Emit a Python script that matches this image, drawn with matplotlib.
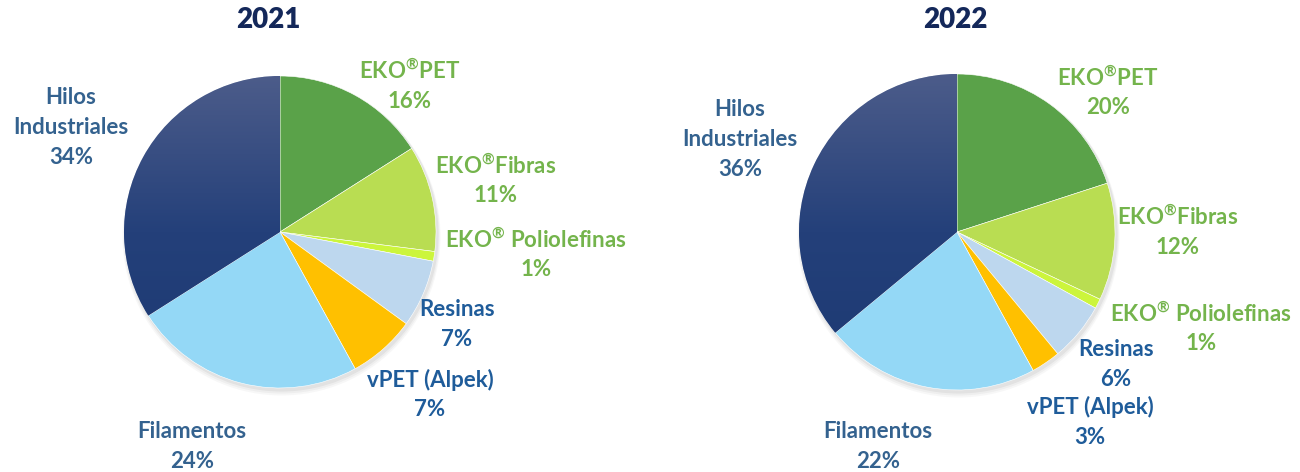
import numpy as np
import matplotlib
matplotlib.use("Agg")
import matplotlib.pyplot as plt
from matplotlib.patches import Circle
from matplotlib.colors import LinearSegmentedColormap

plt.rcParams['font.family'] = ['Lato', 'DejaVu Sans']
plt.rcParams['mathtext.fontset'] = 'custom'
plt.rcParams['mathtext.rm'] = 'Lato'
plt.rcParams['mathtext.bf'] = 'Lato:bold'

# === DATOS ===
YEARS = ["2021", "2022"]
CATS = ["EKO$^{\\mathbf{®}}$PET", "EKO$^{\\mathbf{®}}$Fibras", "EKO$^{\\mathbf{®}}$ Poliolefinas", "Resinas",
        "vPET (Alpek)", "Filamentos", "Hilos\nIndustriales"]
VALS_2021 = [16, 11, 1, 7, 7, 24, 34]
VALS_2022 = [20, 12, 1, 6, 3, 22, 36]

# === ESTILO ===
COLORS = ["#5AA249", "#B9DD52", "#CCF53C", "#BDD7EE", "#FFC000", "#94D8F6", "#2A4479"]
GREEN_TXT = "#74B44C"
BLUE_TXT = "#1F5C9A"
HILOS_TXT = "#34628F"
LABEL_COLORS = [GREEN_TXT, GREEN_TXT, GREEN_TXT, BLUE_TXT, BLUE_TXT, HILOS_TXT, HILOS_TXT]
TITLE_COLOR = "#14285A"

W, H = 1300, 472
LINE_PITCH = 30
# centro y radio de cada pastel (pixeles)
PIES = [((280, 232), 156), ((957, 232), 158)]
TITLE_POS = [(268, 20), (955, 20)]
# centro de cada etiqueta (pixeles)
LABEL_POS = [
    [(410, 86), (496, 181), (536, 255), (457, 325), (430, 395), (192, 446), (71, 128)],
    [(1108, 93), (1178, 232), (1201, 329), (1116, 365), (1090, 422), (878, 446), (740, 140)],
]

fig = plt.figure(figsize=(W / 100, H / 100), dpi=100)
ax = fig.add_axes([0, 0, 1, 1])

hilos_cmap = LinearSegmentedColormap.from_list("hilos", ["#1C3972", "#24407A", "#4C5C8A"])

for i, vals in enumerate([VALS_2021, VALS_2022]):
    (cx, cy), r = PIES[i]
    cy = H - cy
    # sombra suave
    for k, a in enumerate([0.10, 0.08, 0.06]):
        ax.add_patch(Circle((cx + 1.5, cy - 2.5 - k), r + 1 + k, color="#808080", alpha=a, lw=0, zorder=0))
    wedges, _ = ax.pie(vals, colors=COLORS, startangle=90, counterclock=False,
                       center=(cx, cy), radius=r, frame=True,
                       wedgeprops=dict(linewidth=0.4, edgecolor="#ffffff"))
    for w in wedges:
        w.set_zorder(2)
    # degradado en Hilos Industriales
    grad = np.linspace(0, 1, 256).reshape(-1, 1)
    im = ax.imshow(grad, cmap=hilos_cmap, extent=(cx - r, cx + r, cy - r, cy + r),
                   origin="lower", aspect="auto", zorder=3)
    im.set_clip_path(wedges[-1])

    # etiquetas: una linea por texto
    for j, (name, v) in enumerate(zip(CATS, vals)):
        lx, ly = LABEL_POS[i][j]
        lines = name.split("\n") + [f"{v}%"]
        y0 = ly - LINE_PITCH * (len(lines) - 1) / 2
        for k, ln in enumerate(lines):
            ax.text(lx, H - (y0 + k * LINE_PITCH), ln, ha="center", va="center",
                    fontsize=16, fontweight="bold", color=LABEL_COLORS[j], zorder=5)

    tx, ty = TITLE_POS[i]
    ax.text(tx, H - ty, YEARS[i], ha="center", va="center", fontsize=20,
            fontweight="heavy", color=TITLE_COLOR)

ax.set_xlim(0, W); ax.set_ylim(0, H)
ax.set_aspect("equal")
ax.axis("off")
fig.savefig("out.png", dpi=100)
